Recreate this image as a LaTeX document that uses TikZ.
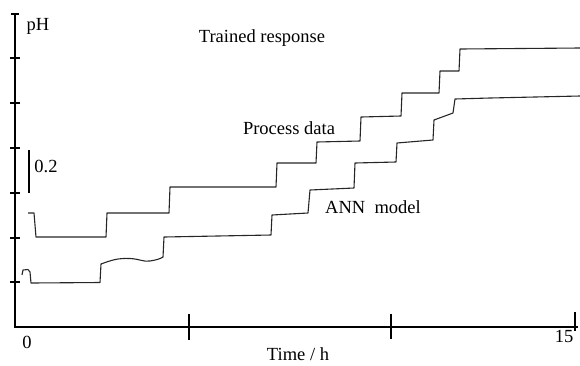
\documentclass[tikz,border=0pt]{standalone}
\usepackage{fontspec}
\setmainfont{Liberation Serif}
\begin{document}
\begin{tikzpicture}[x=1bp,y=-1bp,
  axis/.style={line width=1.2bp,black},
  curve/.style={line width=1.1bp,black!85,line join=round},
  lbl/.style={inner sep=0pt,font=\fontsize{18.5bp}{22bp}\selectfont}]
\useasboundingbox (0,0) rectangle (580,365);
% axes
\draw[axis] (15,14) -- (15,327) -- (578,327);
\draw[axis] (11,14) -- (19,14);
\foreach \y in {58,103,148,193,238,282} \draw[axis] (10,\y) -- (20,\y);
\draw[axis] (189,314) -- (189,340);
\draw[axis] (391,314) -- (391,339);
\draw[axis] (575,312) -- (575,331);
\draw[axis] (29,150) -- (29,193);
% labels
\node[lbl] (ph) at (38,26) {pH};
\node[lbl] (scale) at (46,166) {0.2};
\node[lbl] (zero) at (27,342) {0};
\node[lbl] (fifteen) at (564,336) {15};
\node[lbl] (time) at (298,354) {Time / h};
\node[lbl] (trained) at (262,38) {Trained response};
\node[lbl] (process) at (289,128) {Process data};
\node[lbl] (ann) at (373,207) {ANN\ \ model};
% process data
\draw[curve] (28,213) -- (34,213) -- (36,237) -- (106,237) -- (107,213) -- (169,213)
  -- (170,187) -- (276,187) -- (277,163) -- (316,163) -- (317,142) -- (360,141)
  -- (361,117) -- (401,116) -- (402,93) -- (439,93) -- (440,71) -- (459,71)
  -- (460,49) -- (580,48);
% ANN model
\draw[curve] (22,275) -- (23,270) -- (28,269.5) -- (30,272) -- (31,283) -- (100,282.5)
  -- (101,264) .. controls (112,260) and (118,258) .. (130,258.5)
  .. controls (140,259) and (143,262) .. (150,261)
  .. controls (156,260) and (160,259) .. (163,257)
  -- (164,237) -- (271,235) -- (272,215) -- (308,213) -- (310,190) -- (354,188)
  -- (355,163) -- (396,162) -- (397,143) -- (433,140) -- (434,120) -- (453,113)
  -- (455,99) -- (490,98) -- (580,96);
\end{tikzpicture}
\end{document}
